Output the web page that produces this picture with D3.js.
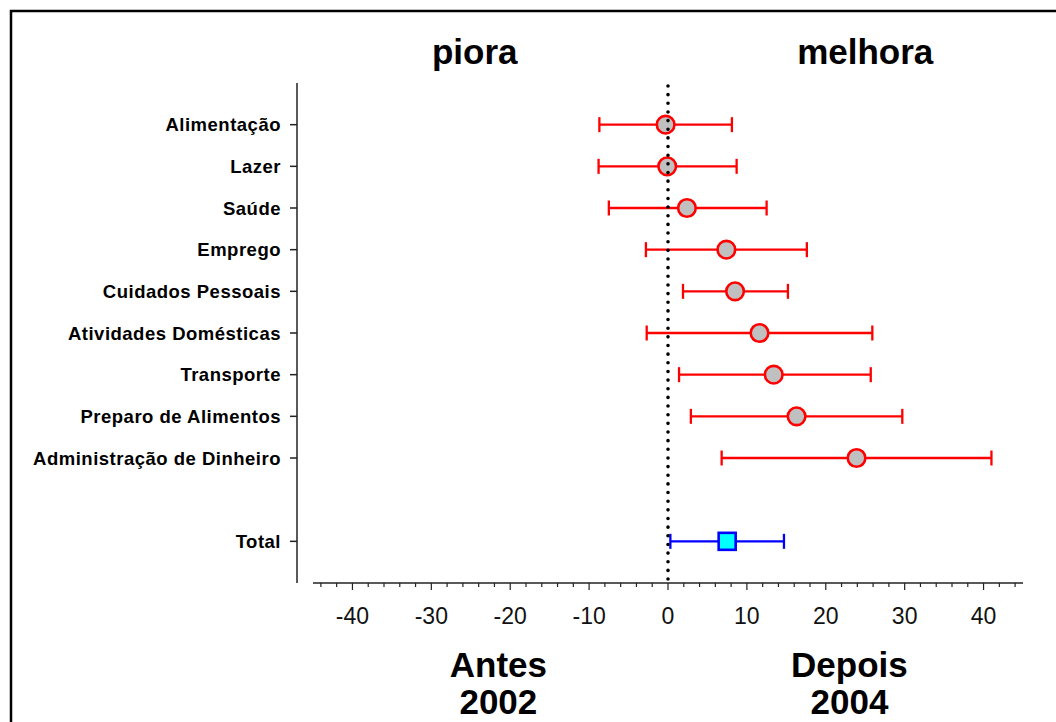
<!DOCTYPE html>
<html>
<head>
<meta charset="utf-8">
<script src="https://cdn.jsdelivr.net/npm/d3@7"></script>
<style>
  html, body { margin: 0; padding: 0; background: #fff; }
  svg { display: block; font-family: "Liberation Sans", Arial, sans-serif; }
</style>
</head>
<body>
<div id="chart"></div>
<script>
// domains and their change (2004 vs 2002), with confidence limits
const categories = ["Alimentação", "Lazer", "Saúde", "Emprego", "Cuidados Pessoais",
  "Atividades Domésticas", "Transporte", "Preparo de Alimentos", "Administração de Dinheiro"];
const means = [-0.3, -0.1, 2.4, 7.4, 8.5, 11.6, 13.4, 16.3, 23.9];
const lower = [-8.7, -8.8, -7.5, -2.8, 1.9, -2.7, 1.4, 2.9, 6.8];
const upper = [8.1, 8.7, 12.5, 17.6, 15.2, 25.9, 25.7, 29.7, 41.0];

const totalLabel = ["Total"];
const totalMean = [7.5];
const totalLower = [0.3];
const totalUpper = [14.7];

const xTicks = [-40, -30, -20, -10, 0, 10, 20, 30, 40];
const topLabels = ["piora", "melhora"];
const bottomLabels = [["Antes", "2002"], ["Depois", "2004"]];

const W = 1056, H = 722;
const svg = d3.select("#chart").append("svg").attr("width", W).attr("height", H);

// frame (only top and left edges are visible in the original)
svg.append("path")
  .attr("d", `M11,${H} V11 H${W}`)
  .attr("fill", "none").attr("stroke", "#000").attr("stroke-width", 2.5);

const x = d3.scaleLinear().domain([-45, 45]).range([313, 1023]);

// one empty slot between the domains and the total
const rows = categories.concat([" "], totalLabel);
const y = d3.scalePoint().domain(rows).range([83, 583]).padding(1);

// x axis with minor ticks every 2
const xAxisY = 583;
const xg = svg.append("g").attr("transform", `translate(0,${xAxisY})`);
xg.append("line").attr("x1", x.range()[0]).attr("x2", x.range()[1])
  .attr("stroke", "#222").attr("stroke-width", 1.5);
xg.selectAll(".minor").data(d3.range(-44, 45, 2))
  .enter().append("line")
  .attr("x1", d => x(d)).attr("x2", d => x(d))
  .attr("y1", 0).attr("y2", d => d % 10 === 0 ? 7 : 4)
  .attr("stroke", "#222").attr("stroke-width", 1.2);
xg.selectAll(".tl").data(xTicks)
  .enter().append("text")
  .attr("x", d => x(d)).attr("y", 41)
  .attr("text-anchor", "middle")
  .attr("font-size", 23)
  .attr("fill", "#111")
  .text(d => d);

// y axis
const yAxisX = 297;
const yg = svg.append("g").attr("transform", `translate(${yAxisX},0)`);
yg.append("line").attr("y1", 83).attr("y2", 583).attr("stroke", "#222").attr("stroke-width", 1.5);
yg.selectAll(".yt").data(categories.concat(totalLabel))
  .enter().append("line")
  .attr("x1", -7).attr("x2", 0)
  .attr("y1", d => y(d)).attr("y2", d => y(d))
  .attr("stroke", "#222").attr("stroke-width", 1.5);
yg.selectAll(".yl").data(categories.concat(totalLabel))
  .enter().append("text")
  .attr("x", -16).attr("y", d => y(d)).attr("dy", "0.36em")
  .attr("text-anchor", "end")
  .attr("font-size", 18.5).attr("font-weight", "bold")
  .attr("letter-spacing", 0.5)
  .text(d => d);

// error bars for the domains
const capH = 7.5;
const bars = svg.append("g").attr("stroke", "#ff0000").attr("stroke-width", 2.3);
categories.forEach((c, i) => {
  const yy = y(c);
  bars.append("line").attr("x1", x(lower[i])).attr("x2", x(upper[i])).attr("y1", yy).attr("y2", yy);
  bars.append("line").attr("x1", x(lower[i])).attr("x2", x(lower[i])).attr("y1", yy - capH).attr("y2", yy + capH);
  bars.append("line").attr("x1", x(upper[i])).attr("x2", x(upper[i])).attr("y1", yy - capH).attr("y2", yy + capH);
});
svg.selectAll(".pt").data(categories)
  .enter().append("circle")
  .attr("cx", (d, i) => x(means[i])).attr("cy", d => y(d))
  .attr("r", 8.8)
  .attr("fill", "#c0c0c0").attr("stroke", "#ff0000").attr("stroke-width", 2.6);

// total
const tb = svg.append("g").attr("stroke", "#0000ff").attr("stroke-width", 2.3);
totalLabel.forEach((c, i) => {
  const yy = y(c);
  tb.append("line").attr("x1", x(totalLower[i])).attr("x2", x(totalUpper[i])).attr("y1", yy).attr("y2", yy);
  tb.append("line").attr("x1", x(totalLower[i])).attr("x2", x(totalLower[i])).attr("y1", yy - capH).attr("y2", yy + capH);
  tb.append("line").attr("x1", x(totalUpper[i])).attr("x2", x(totalUpper[i])).attr("y1", yy - capH).attr("y2", yy + capH);
});
const sq = 17;
svg.selectAll(".tot").data(totalLabel)
  .enter().append("rect")
  .attr("x", (d, i) => x(totalMean[i]) - sq / 2).attr("y", d => y(d) - sq / 2)
  .attr("width", sq).attr("height", sq)
  .attr("fill", "#00ffff").attr("stroke", "#0000ff").attr("stroke-width", 2.6);

// dotted zero line on top
svg.append("line")
  .attr("x1", x(0)).attr("x2", x(0)).attr("y1", 86).attr("y2", 583)
  .attr("stroke", "#000").attr("stroke-width", 3.6)
  .attr("stroke-linecap", "round").attr("stroke-dasharray", "0 8.65");

// headings
svg.selectAll(".top").data(topLabels)
  .enter().append("text")
  .attr("x", (d, i) => i === 0 ? x(-24.5) : x(25))
  .attr("y", 64)
  .attr("text-anchor", "middle")
  .attr("font-size", 35).attr("font-weight", "bold")
  .text(d => d);

const bl = svg.selectAll(".bot").data(bottomLabels)
  .enter().append("text")
  .attr("x", (d, i) => i === 0 ? x(-21.5) : x(23))
  .attr("text-anchor", "middle")
  .attr("font-size", 35).attr("font-weight", "bold");
bl.append("tspan").attr("x", (d, i) => i === 0 ? x(-21.5) : x(23)).attr("y", 677).text(d => d[0]);
bl.append("tspan").attr("x", (d, i) => i === 0 ? x(-21.5) : x(23)).attr("y", 714).text(d => d[1]);
</script>
</body>
</html>
